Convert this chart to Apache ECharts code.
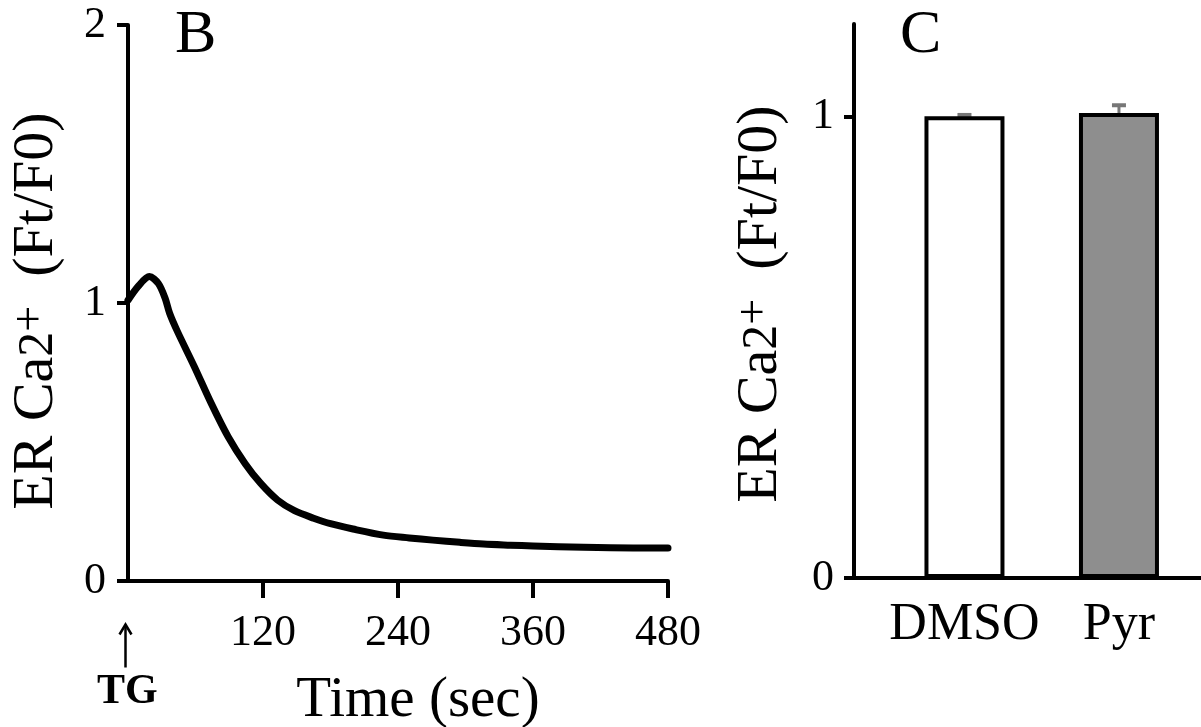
<!DOCTYPE html>
<html>
<head>
<meta charset="utf-8">
<script src="https://cdn.jsdelivr.net/npm/echarts@6/dist/echarts.min.js"></script>
<style>
  html, body { margin: 0; padding: 0; background: #fff; }
  #chart { width: 1201px; height: 727px; }
</style>
</head>
<body>
<div id="chart"></div>
<script>
// Panel B: ER Ca2+ trace after TG (time in sec, Ft/F0)
const traceTime  = [0, 9, 19, 27, 33, 37, 44, 59, 74, 89, 104, 118, 133, 148, 165, 180, 200, 227, 250, 271, 295, 316, 340, 360, 405, 449, 480];
const traceValue = [1.01, 1.06, 1.095, 1.07, 1.017, 0.963, 0.897, 0.771, 0.639, 0.519, 0.423, 0.351, 0.291, 0.253, 0.226, 0.206, 0.187, 0.165, 0.155, 0.147, 0.139, 0.133, 0.129, 0.126, 0.121, 0.119, 0.119];
const timeTicks  = [0, 120, 240, 360, 480];

// Panel C: bar summary
const categories = ['DMSO', 'Pyr'];
const barValues  = [1.0, 1.007];
const barErrors  = [0.003, 0.017];
const barColors  = ['#ffffff', '#8e8e8e'];

const FONT = "'Liberation Serif', 'Times New Roman', serif";
const chart = echarts.init(document.getElementById('chart'));

const Y_NAME = '{n|ER Ca}{m|2}{s|+}{n|  (Ft/F0)}';
function yName(padDown) {
  return {
    padding: [0, padDown, 0, 0],
    rich: {
      n: { fontFamily: FONT, fontSize: 58, color: '#000', verticalAlign: 'bottom', padding: [0, 0, 10, 0] },
      m: { fontFamily: FONT, fontSize: 50, color: '#000', verticalAlign: 'bottom', padding: [0, 0, 12, 0] },
      s: { fontFamily: FONT, fontSize: 46, color: '#000', verticalAlign: 'top', padding: [0, 0, 0, 0] }
    }
  };
}

chart.setOption({
  backgroundColor: '#fff',
  animation: false,
  title: [
    { text: 'B', left: 170, top: 0, textStyle: { fontFamily: FONT, fontSize: 62, fontWeight: 'normal', color: '#000' } },
    { text: 'C', left: 895, top: 0, textStyle: { fontFamily: FONT, fontSize: 62, fontWeight: 'normal', color: '#000' } }
  ],
  grid: [
    { left: 128, right: 533, top: 25, bottom: 146, containLabel: false, outerBoundsMode: 'none' },
    { left: 854, right: 0, top: 24, bottom: 149, containLabel: false, outerBoundsMode: 'none' }
  ],
  xAxis: [
    {
      gridIndex: 0, type: 'value', min: timeTicks[0], max: timeTicks[timeTicks.length - 1], interval: 120,
      name: 'Time (sec)', nameLocation: 'middle', nameGap: 92,
      nameTextStyle: { fontFamily: FONT, fontSize: 57, color: '#000', padding: [0, 0, 0, 40] },
      axisLine: { show: true, onZero: false, lineStyle: { color: '#000', width: 4 } },
      axisTick: { show: true, inside: false, length: 17, lineStyle: { color: '#000', width: 4 } },
      axisLabel: { fontFamily: FONT, fontSize: 44, color: '#000', margin: 30, showMinLabel: false },
      splitLine: { show: false }
    },
    {
      gridIndex: 1, type: 'value', min: -0.715, max: 1.531,
      axisLine: { show: true, onZero: false, lineStyle: { color: '#000', width: 4 } },
      axisTick: { show: false },
      axisLabel: {
        customValues: [0, 1],
        fontFamily: FONT, fontSize: 52, color: '#000', margin: 21,
        formatter: v => categories[Math.round(v)] || ''
      },
      splitLine: { show: false }
    }
  ],
  yAxis: [
    {
      gridIndex: 0, type: 'value', min: 0, max: 2, interval: 1,
      name: Y_NAME, nameLocation: 'middle', nameRotate: 90, nameGap: 52,
      nameTextStyle: yName(16),
      axisLine: { show: true, onZero: false, lineStyle: { color: '#000', width: 4 } },
      axisTick: { show: true, length: 11, lineStyle: { color: '#000', width: 4 } },
      axisLabel: { fontFamily: FONT, fontSize: 44, color: '#000', margin: 22 },
      splitLine: { show: false }
    },
    {
      gridIndex: 1, type: 'value', min: 0, max: 1.2,
      name: Y_NAME, nameLocation: 'middle', nameRotate: 90, nameGap: 54,
      nameTextStyle: yName(6),
      axisLine: { show: true, onZero: false, lineStyle: { color: '#000', width: 4 } },
      axisTick: { show: true, length: 10, customValues: [0, 1], lineStyle: { color: '#000', width: 4 } },
      axisLabel: { customValues: [0, 1], fontFamily: FONT, fontSize: 44, color: '#000', margin: 20 },
      splitLine: { show: false }
    }
  ],
  graphic: [
    {
      type: 'group', left: 117, top: 622,
      children: [
        { type: 'line', shape: { x1: 8, y1: 3, x2: 8, y2: 44 }, style: { stroke: '#000', lineWidth: 2.5 } },
        { type: 'polyline', shape: { points: [[2, 11], [8, 1], [14, 11]] }, style: { stroke: '#000', lineWidth: 2.5, fill: null } }
      ]
    },
    {
      type: 'text', left: 97, top: 671,
      style: { text: 'TG', fontFamily: FONT, fontSize: 42, fontWeight: 'bold', fill: '#000' }
    }
  ],
  series: [
    {
      type: 'line', xAxisIndex: 0, yAxisIndex: 0,
      data: traceTime.map((t, i) => [t, traceValue[i]]),
      smooth: 0.3, showSymbol: false, symbol: 'none',
      lineStyle: { color: '#000', width: 7, cap: 'round', join: 'round' }
    },
    {
      type: 'bar', xAxisIndex: 1, yAxisIndex: 1,
      barWidth: 80,
      data: barValues.map((v, i) => ({
        value: [i, v],
        itemStyle: { color: barColors[i], borderColor: '#000', borderWidth: 4 }
      }))
    },
    {
      type: 'custom', xAxisIndex: 1, yAxisIndex: 1, z: 1,
      data: barValues.map((v, i) => [i, v, barErrors[i]]),
      renderItem: function (params, api) {
        const x = api.value(0), v = api.value(1), e = api.value(2);
        const p0 = api.coord([x, v]);
        const p1 = api.coord([x, v + e]);
        const hw = 7;
        return {
          type: 'group',
          children: [
            { type: 'line', shape: { x1: p0[0], y1: p0[1], x2: p1[0], y2: p1[1] }, style: { stroke: '#777', lineWidth: 3 } },
            { type: 'line', shape: { x1: p1[0] - hw, y1: p1[1], x2: p1[0] + hw, y2: p1[1] }, style: { stroke: '#777', lineWidth: 4 } }
          ]
        };
      }
    }
  ]
});
</script>
</body>
</html>
